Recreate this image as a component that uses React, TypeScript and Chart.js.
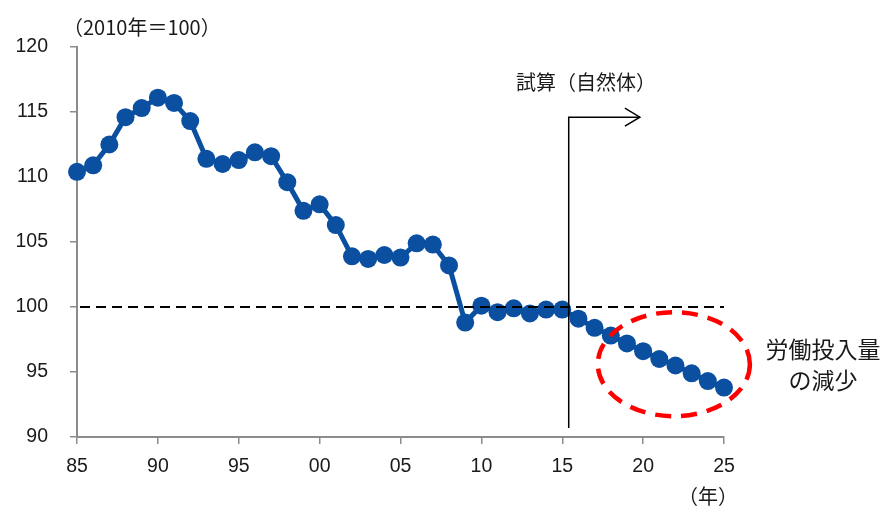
import React, { useEffect, useRef } from 'react';
import { Chart, registerables } from 'chart.js';

Chart.register(...registerables);

const years = [
  1985, 1986, 1987, 1988, 1989, 1990, 1991, 1992, 1993, 1994,
  1995, 1996, 1997, 1998, 1999, 2000, 2001, 2002, 2003, 2004,
  2005, 2006, 2007, 2008, 2009, 2010, 2011, 2012, 2013, 2014,
  2015, 2016, 2017, 2018, 2019, 2020, 2021, 2022, 2023, 2024, 2025,
];
const laborInput = [
  110.4, 110.9, 112.5, 114.6, 115.3, 116.1, 115.7, 114.3, 111.4, 111.0,
  111.3, 111.9, 111.6, 109.6, 107.4, 107.9, 106.3, 103.9, 103.7, 104.0,
  103.8, 104.9, 104.8, 103.2, 98.8, 100.1, 99.6, 99.9, 99.5, 99.8,
  99.8, 99.1, 98.4, 97.8, 97.2, 96.6, 96.0, 95.5, 94.9, 94.3, 93.8,
];
const xTickValues = [1985, 1990, 1995, 2000, 2005, 2010, 2015, 2020, 2025];
const xTickLabels = ['85', '90', '95', '00', '05', '10', '15', '20', '25'];
const yTicks = [90, 95, 100, 105, 110, 115, 120];

const baseLevel = 100;
const forecastStart = 2015.4;
const arrowEnd = 2019.8;
const arrowLevel = 114.6;
const vlineBottom = 90.7;
const ellipseCenter = { x: 2021.9, y: 95.6 };
const ellipseRadius = { x: 4.7, y: 4.0 };

const unitLabel = '（2010年＝100）';
const yearLabel = '（年）';
const forecastLabel = '試算（自然体）';
const noteLines = ['労働投入量', 'の減少'];

const JP = '"Noto Sans CJK JP", "Noto Sans", sans-serif';
const NUM = '"Liberation Sans", Arial, sans-serif';
const BLUE = '#0a4fa0';
const TEXT = '#1a1a1a';

const annotationPlugin = {
  id: 'annotations',
  afterDatasetsDraw(chart: any) {
    const { ctx, scales } = chart;
    const x = scales.x;
    const y = scales.y;
    ctx.save();
    ctx.strokeStyle = '#000';
    ctx.lineWidth = 2.2;
    ctx.setLineDash([10, 6]);
    ctx.beginPath();
    ctx.moveTo(x.getPixelForValue(years[0]) + 3, y.getPixelForValue(baseLevel));
    ctx.lineTo(x.getPixelForValue(years[years.length - 1]), y.getPixelForValue(baseLevel));
    ctx.stroke();

    ctx.setLineDash([]);
    ctx.lineWidth = 1.5;
    const vx = x.getPixelForValue(forecastStart);
    const ay = y.getPixelForValue(arrowLevel);
    const ax = x.getPixelForValue(arrowEnd);
    ctx.beginPath();
    ctx.moveTo(vx, y.getPixelForValue(vlineBottom));
    ctx.lineTo(vx, ay);
    ctx.lineTo(ax, ay);
    ctx.stroke();
    ctx.beginPath();
    ctx.moveTo(ax - 15, ay - 9);
    ctx.lineTo(ax, ay);
    ctx.lineTo(ax - 15, ay + 9);
    ctx.stroke();

    const cx = x.getPixelForValue(ellipseCenter.x);
    const cy = y.getPixelForValue(ellipseCenter.y);
    const rx = Math.abs(x.getPixelForValue(ellipseCenter.x + ellipseRadius.x) - cx);
    const ry = Math.abs(y.getPixelForValue(ellipseCenter.y + ellipseRadius.y) - cy);
    ctx.strokeStyle = '#ff0000';
    ctx.lineWidth = 4.5;
    ctx.setLineDash([16, 10]);
    ctx.beginPath();
    ctx.ellipse(cx, cy, rx, ry, 0, 0, Math.PI * 2);
    ctx.stroke();
    ctx.restore();
  },
  afterDraw(chart: any) {
    const { ctx, chartArea } = chart;
    ctx.save();
    ctx.fillStyle = TEXT;
    ctx.textBaseline = 'middle';
    ctx.font = `20px ${JP}`;
    ctx.textAlign = 'left';
    ctx.fillText(unitLabel, chartArea.left - 14, chartArea.top - 20);

    ctx.textAlign = 'center';
    ctx.fillText(yearLabel, 708, 496);

    ctx.font = `20px ${JP}`;
    ctx.fillText(forecastLabel, 586, 82);

    ctx.font = `23px ${JP}`;
    ctx.fillText(noteLines[0], 823, 349);
    ctx.fillText(noteLines[1], 823, 380);
    ctx.restore();
  },
};

export default function App() {
  const ref = useRef<HTMLCanvasElement | null>(null);
  useEffect(() => {
    document.body.style.margin = '0';
    const canvas = ref.current;
    if (!canvas) return;
    const chart = new Chart(canvas, {
      type: 'line',
      data: {
        datasets: [
          {
            data: years.map((yr, i) => ({ x: yr, y: laborInput[i] })),
            borderColor: BLUE,
            backgroundColor: BLUE,
            borderWidth: 5,
            pointRadius: 9,
            pointBackgroundColor: BLUE,
            pointBorderWidth: 0,
            tension: 0,
            clip: false,
          },
        ],
      },
      options: {
        animation: false,
        responsive: false,
        maintainAspectRatio: false,
        events: [],
        layout: { padding: { left: 0, top: 47, right: 159, bottom: 0 } },
        plugins: {
          legend: { display: false },
          tooltip: { enabled: false },
          title: { display: false },
        },
        scales: {
          x: {
            type: 'linear',
            min: xTickValues[0],
            max: xTickValues[xTickValues.length - 1],
            afterFit: (s: any) => {
              s.height = 75;
            },
            afterBuildTicks: (s: any) => {
              s.ticks = xTickValues.map((v) => ({ value: v }));
            },
            ticks: {
              color: TEXT,
              font: { size: 19.5, family: NUM },
              padding: 11,
              maxRotation: 0,
              autoSkip: false,
              callback: (v: any) => {
                const idx = xTickValues.indexOf(Number(v));
                return idx >= 0 ? xTickLabels[idx] : '';
              },
            },
            grid: {
              display: true,
              drawOnChartArea: false,
              drawTicks: true,
              tickLength: 7,
              color: '#8c8c8c',
              lineWidth: 1.5,
            },
            border: { display: true, color: '#8c8c8c', width: 2 },
          },
          y: {
            min: yTicks[0],
            max: yTicks[yTicks.length - 1],
            afterFit: (s: any) => {
              s.width = 77;
            },
            afterBuildTicks: (s: any) => {
              s.ticks = yTicks.map((v) => ({ value: v }));
            },
            ticks: {
              color: TEXT,
              font: { size: 19.5, family: NUM },
              padding: 22,
            },
            grid: {
              display: true,
              drawOnChartArea: false,
              drawTicks: true,
              tickLength: 7,
              color: '#8c8c8c',
              lineWidth: 1.5,
            },
            border: { display: true, color: '#8c8c8c', width: 2 },
          },
        },
      },
      plugins: [annotationPlugin],
    });
    return () => chart.destroy();
  }, []);
  return <canvas ref={ref} width={883} height={512} style={{ display: 'block' }} />;
}
